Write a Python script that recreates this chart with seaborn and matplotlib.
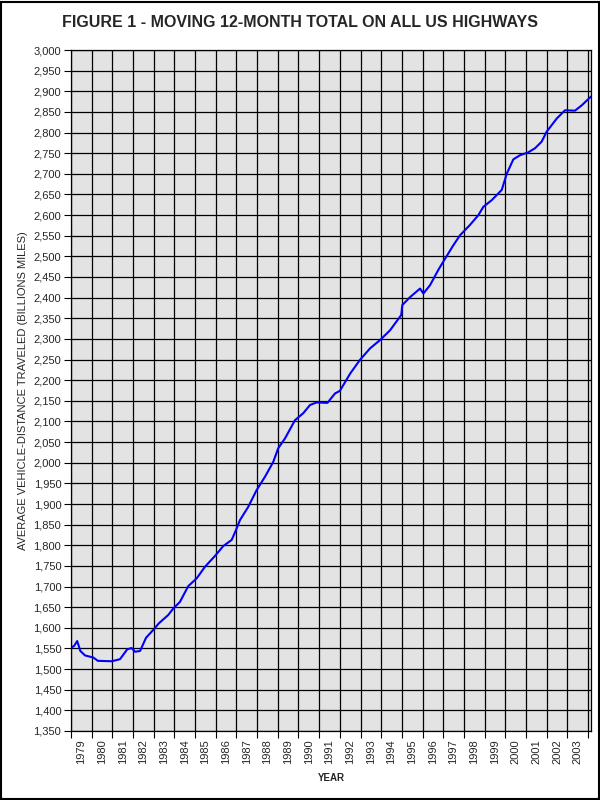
import matplotlib
matplotlib.use("Agg")
import matplotlib.pyplot as plt
import seaborn as sns
import pandas as pd
import numpy as np
from matplotlib.ticker import FuncFormatter, MultipleLocator, FixedLocator
from matplotlib.patches import Rectangle

years = [1979.00, 1979.15, 1979.30, 1979.45, 1979.68, 1980.08, 1980.30, 1980.97,
         1981.37, 1981.72, 1981.93, 1982.10, 1982.34, 1982.63, 1982.98, 1983.25,
         1983.70, 1983.95, 1984.27, 1984.67, 1985.08, 1985.48, 1985.96, 1986.36,
         1986.77, 1986.98, 1987.17, 1987.57, 1987.98, 1988.38, 1988.78, 1989.02,
         1989.35, 1989.83, 1990.23, 1990.56, 1990.88, 1991.40, 1991.77, 1992.00,
         1992.50, 1992.97, 1993.46, 1993.94, 1994.43, 1994.97, 1995.02, 1995.39,
         1995.88, 1996.04, 1996.36, 1996.76, 1997.00, 1997.49, 1997.81, 1998.29,
         1998.70, 1998.94, 1999.34, 1999.83, 2000.07, 2000.39, 2000.71, 2001.11,
         2001.44, 2001.76, 2002.00, 2002.49, 2002.89, 2003.37, 2003.70, 2004.14]
vmt = [1552, 1556, 1568, 1544, 1533, 1528, 1520, 1519,
       1524, 1548, 1551, 1542, 1544, 1576, 1595, 1611,
       1631, 1647, 1663, 1701, 1720, 1748, 1774, 1798,
       1813, 1837, 1861, 1893, 1934, 1966, 2002, 2035,
       2059, 2103, 2120, 2140, 2146, 2145, 2168, 2174,
       2216, 2249, 2277, 2297, 2321, 2358, 2382, 2401,
       2422, 2410, 2430, 2467, 2487, 2527, 2551, 2576,
       2600, 2620, 2636, 2661, 2700, 2735, 2745, 2752,
       2762, 2778, 2802, 2834, 2854, 2853, 2866, 2887]
year_labels = [str(y) for y in range(1979, 2004)]

df = pd.DataFrame({"year": years, "vmt": vmt})

sns.set_style("ticks")
plt.rcParams["font.family"] = ["Liberation Sans", "DejaVu Sans"]

fig = plt.figure(figsize=(6, 8), dpi=100)
ax = fig.add_axes([71/600, 1-731/800, (591.3-71)/600, (731-50)/800])
ax.set_facecolor("#e3e3e3")

sns.lineplot(data=df, x="year", y="vmt", ax=ax, color="#0000ff", linewidth=1.5)

ax.set_xlim(1979, 2004.16)
ax.set_ylim(1350, 3000)
ax.yaxis.set_major_locator(MultipleLocator(50))
ax.yaxis.set_major_formatter(FuncFormatter(lambda v, p: f"{int(v):,}"))
ax.xaxis.set_major_locator(FixedLocator(np.arange(1979, 2005)))
ax.xaxis.set_major_formatter(FuncFormatter(lambda v, p: ""))
ax.set_xticks(np.arange(1979, 2004) + 0.5, minor=True)
ax.set_xticklabels(year_labels, minor=True, rotation=90, fontsize=8)
ax.tick_params(axis="x", which="minor", length=0, pad=6)
ax.tick_params(axis="x", which="major", length=5, width=0.8, color="black")
ax.tick_params(axis="y", length=5, width=0.8, color="black", labelsize=8, pad=2)

ax.grid(True, which="major", color="black", linewidth=0.9)
for s in ax.spines.values():
    s.set_visible(True)
    s.set_color("black")
    s.set_linewidth(0.9)

ax.set_xlabel("YEAR", fontsize=7, fontweight="bold", labelpad=6)
ax.set_ylabel("AVERAGE VEHICLE-DISTANCE TRAVELED (BILLIONS MILES)", fontsize=8, labelpad=4)

fig.text(0.5, 0.972, "FIGURE 1 - MOVING 12-MONTH TOTAL ON ALL US HIGHWAYS",
         ha="center", va="center", fontsize=11.5, fontweight="bold")

fig.patches.append(Rectangle((0.001, 0.001), 0.997, 0.997, transform=fig.transFigure,
                             fill=False, edgecolor="black", linewidth=1.5))

fig.savefig("out.png", dpi=100, facecolor="white")
